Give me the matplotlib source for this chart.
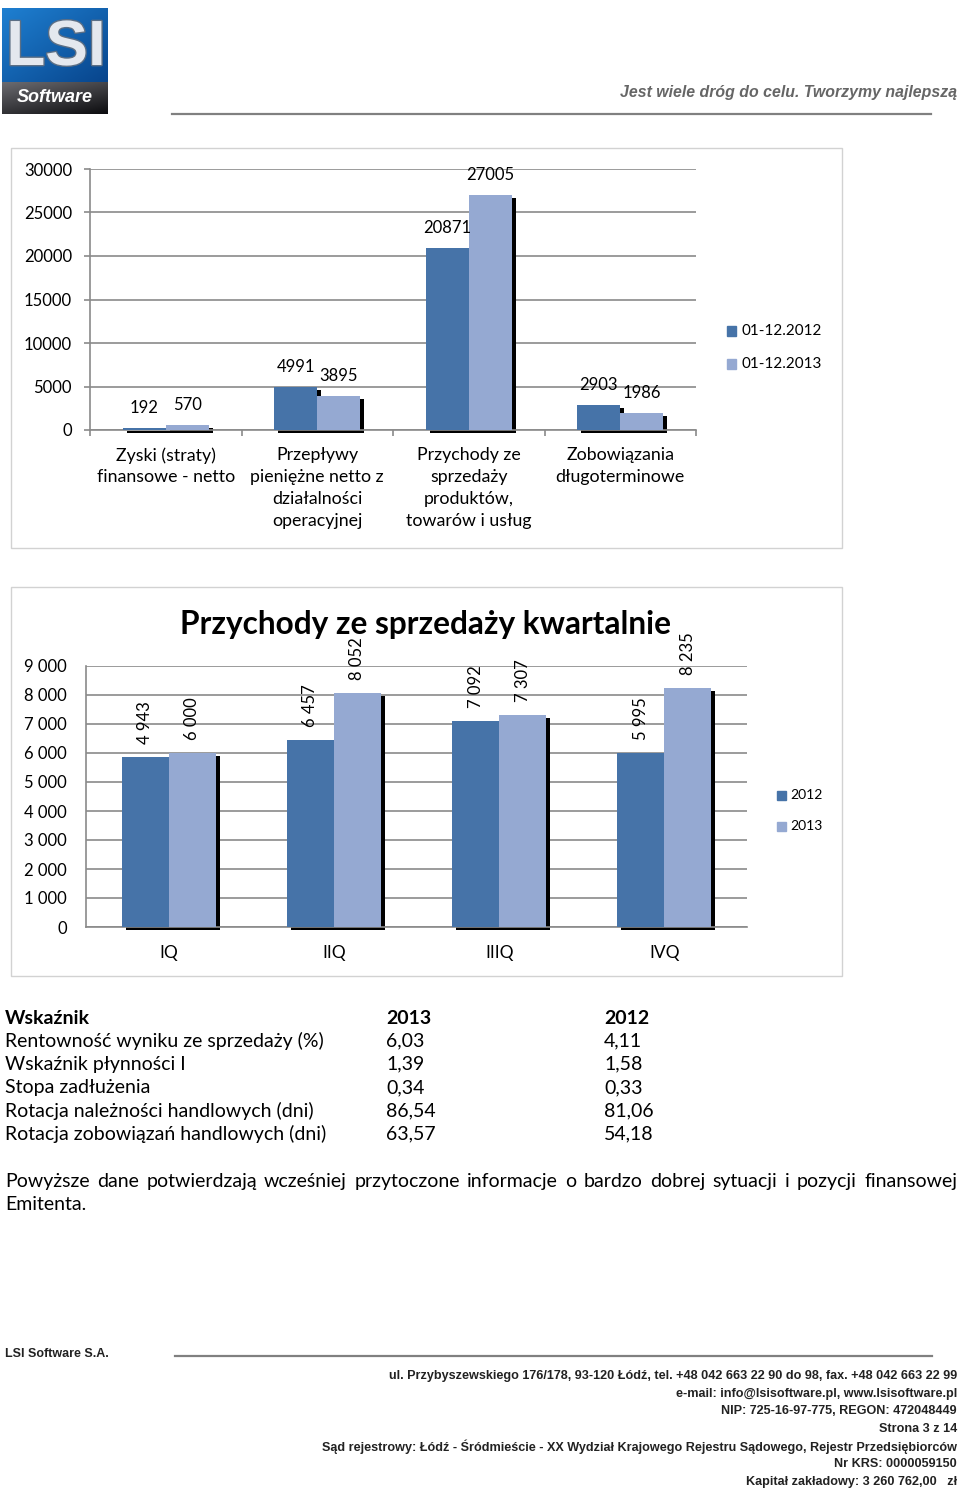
import matplotlib
matplotlib.use('Agg')
import matplotlib.pyplot as plt
import numpy as np
from matplotlib.patches import Rectangle
from matplotlib.transforms import ScaledTranslation, blended_transform_factory
import matplotlib.patheffects as pe

# ---------------- data ----------------
c1_categories = ["Zyski (straty)\nfinansowe - netto",
                 "Przepływy\npieniężne netto z\ndziałalności\noperacyjnej",
                 "Przychody ze\nsprzedaży\nproduktów,\ntowarów i usług",
                 "Zobowiązania\ndługoterminowe"]
c1_series = ["01-12.2012", "01-12.2013"]
c1_2012 = [192, 4991, 20871, 2903]
c1_2013 = [570, 3895, 27005, 1986]
c1_yticks = [0, 5000, 10000, 15000, 20000, 25000, 30000]

c2_title = "Przychody ze sprzedaży kwartalnie"
c2_categories = ["IQ", "IIQ", "IIIQ", "IVQ"]
c2_series = ["2012", "2013"]
c2_2012 = [5850, 6457, 7092, 5995]          # bar heights as drawn in the picture
c2_2012_labels = ["4 943", "6 457", "7 092", "5 995"]
c2_2013 = [6000, 8052, 7307, 8235]
c2_2013_labels = ["6 000", "8 052", "7 307", "8 235"]
c2_yticks = [0, 1000, 2000, 3000, 4000, 5000, 6000, 7000, 8000, 9000]
c2_yticklabels = ["0", "1 000", "2 000", "3 000", "4 000", "5 000",
                  "6 000", "7 000", "8 000", "9 000"]

table_header = ["Wskaźnik", "2013", "2012"]
table_names = ["Rentowność wyniku ze sprzedaży (%)", "Wskaźnik płynności I",
               "Stopa zadłużenia", "Rotacja należności handlowych (dni)",
               "Rotacja zobowiązań handlowych (dni)"]
table_2013 = ["6,03", "1,39", "0,34", "86,54", "63,57"]
table_2012 = ["4,11", "1,58", "0,33", "81,06", "54,18"]

para_line1 = ("Powyższe dane potwierdzają wcześniej przytoczone informacje o bardzo "
              "dobrej sytuacji i pozycji finansowej")
para_line2 = "Emitenta."

header_slogan = "Jest wiele dróg do celu. Tworzymy najlepszą"
footer_company = "LSI Software S.A."
footer_lines = [
    "ul. Przybyszewskiego 176/178, 93-120 Łódź, tel. +48 042 663 22 90 do 98, fax. +48 042 663 22 99",
    "e-mail: info@lsisoftware.pl, www.lsisoftware.pl",
    "NIP: 725-16-97-775, REGON: 472048449",
    "Strona 3 z 14",
    "Sąd rejestrowy: Łódź - Śródmieście - XX Wydział Krajowego Rejestru Sądowego, Rejestr Przedsiębiorców",
    "Nr KRS: 0000059150",
    "Kapitał zakładowy: 3 260 762,00   zł",
]

# ---------------- style ----------------
W, H = 960, 1491
FONT = ['Lato', 'DejaVu Sans']
SANS = ['Liberation Sans', 'DejaVu Sans']
C2012 = '#4673a8'
C2013 = '#95a9d2'
GRID = '#8a8a8a'
FRAME = '#d2d2d2'

fig = plt.figure(figsize=(9.6, 14.91), dpi=100)


def fx(x):
    return x / W


def fy(y):
    return 1 - y / H


def px2pt(p):
    return p * 0.72


# ---------------- logo ----------------
lax = fig.add_axes([fx(2), fy(114), 106 / W, 106 / H])
lax.axis('off')
g = np.linspace(0, 1, 64)
blue = np.zeros((64, 64, 3))
for i in range(64):
    for j in range(64):
        t = 0.5 * g[i] + 0.5 * g[j]
        blue[i, j] = (1 - t) * np.array([0.12, 0.50, 0.82]) + t * np.array([0.03, 0.27, 0.55])
lax.imshow(blue, extent=[0, 106, 74, 0], aspect='auto', zorder=1)
dark = np.zeros((32, 64, 3))
for i in range(32):
    for j in range(64):
        t = 0.6 * (i / 31) + 0.4 * (j / 63)
        dark[i, j] = (1 - t) * np.array([0.42, 0.42, 0.44]) + t * np.array([0.05, 0.05, 0.06])
lax.imshow(dark, extent=[0, 106, 106, 74], aspect='auto', zorder=1)
lax.text(54, 40, "LSI", ha='center', va='center', fontsize=46, fontweight='bold',
         family=SANS, color='#e4e8ee', zorder=3,
         path_effects=[pe.withStroke(linewidth=2, foreground='#5c6f85')])
lax.text(53, 90, "Software", ha='center', va='center', fontsize=13, fontweight='bold',
         style='italic', family=SANS, color='white', zorder=3)
lax.set_xlim(0, 106)
lax.set_ylim(106, 0)

# header
fig.text(fx(957), fy(92), header_slogan, ha='right', va='center', fontsize=11.4,
         fontweight='bold', style='italic', family=SANS, color='#666666')
fig.add_artist(plt.Line2D([fx(172), fx(931)], [fy(114), fy(114)], color='#808080', lw=1.6))

# ---------------- chart frames ----------------
fig.add_artist(Rectangle((fx(11), fy(548)), 831 / W, 400 / H, transform=fig.transFigure,
                         fill=False, edgecolor=FRAME, lw=1))
fig.add_artist(Rectangle((fx(11), fy(976)), 831 / W, 389 / H, transform=fig.transFigure,
                         fill=False, edgecolor=FRAME, lw=1))


def shadow_bars(ax, x, h, w):
    bars = ax.bar(x, h, w, color='black', zorder=2, linewidth=0)
    off = ScaledTranslation(4 / 100, -3 / 100, fig.dpi_scale_trans)
    for b in bars:
        b.set_transform(ax.transData + off)
        b.set_clip_on(False)


# ---------------- chart 1 ----------------
ax1 = fig.add_axes([fx(90), fy(430), (696 - 90) / W, (430 - 169) / H])
n = len(c1_categories)
xc = np.arange(n) + 0.5
bw = 0.284
ax1.set_xlim(0, n)
ax1.set_ylim(0, 30000)
for s, vals in [(-1, c1_2012), (1, c1_2013)]:
    shadow_bars(ax1, xc + s * bw / 2, vals, bw)
ax1.bar(xc - bw / 2, c1_2012, bw, color=C2012, zorder=3, linewidth=0)
ax1.bar(xc + bw / 2, c1_2013, bw, color=C2013, zorder=3, linewidth=0)
ax1.set_yticks(c1_yticks)
ax1.set_yticklabels([str(v) for v in c1_yticks], family=FONT, fontsize=12)
ax1.yaxis.grid(True, color=GRID, lw=1.2, zorder=0)
ax1.set_axisbelow(True)
ax1.tick_params(axis='y', length=px2pt(6), width=1.2, color=GRID, pad=px2pt(12))
ax1.set_xticks(np.arange(n + 1))
ax1.set_xticklabels([])
ax1.tick_params(axis='x', length=px2pt(6), width=1.2, color=GRID)
for sp in ['top', 'right']:
    ax1.spines[sp].set_visible(False)
for sp in ['left', 'bottom']:
    ax1.spines[sp].set_color(GRID)
    ax1.spines[sp].set_linewidth(1.2)
for i in range(n):
    ax1.annotate(str(c1_2012[i]), (xc[i] - bw / 2, c1_2012[i]), xytext=(0, px2pt(20)),
                 textcoords='offset points', ha='center', va='center', fontsize=12, family=FONT)
    ax1.annotate(str(c1_2013[i]), (xc[i] + bw / 2, c1_2013[i]), xytext=(0, px2pt(20)),
                 textcoords='offset points', ha='center', va='center', fontsize=12, family=FONT)
trans1 = blended_transform_factory(ax1.transData, ax1.transAxes)
for i, lab in enumerate(c1_categories):
    ax1.text(xc[i], (430 - 447) / 261, lab, transform=trans1, ha='center', va='top',
             fontsize=12.8, family=FONT, linespacing=1.45)

# legend chart 1
for k, (lab, col) in enumerate(zip(c1_series, [C2012, C2013])):
    yy = 331 + 33 * k
    fig.add_artist(Rectangle((fx(727), fy(yy + 4.5)), 9 / W, 9 / H, transform=fig.transFigure,
                             color=col))
    fig.text(fx(741), fy(yy), lab, ha='left', va='center', fontsize=11, family=FONT)

# ---------------- chart 2 ----------------
ax2 = fig.add_axes([fx(86), fy(927), (747 - 86) / W, (927 - 666) / H])
m = len(c2_categories)
xq = np.arange(m) + 0.5
bw2 = 0.284
ax2.set_xlim(0, m)
ax2.set_ylim(0, 9000)
for s, vals in [(-1, c2_2012), (1, c2_2013)]:
    shadow_bars(ax2, xq + s * bw2 / 2, vals, bw2)
ax2.bar(xq - bw2 / 2, c2_2012, bw2, color=C2012, zorder=3, linewidth=0)
ax2.bar(xq + bw2 / 2, c2_2013, bw2, color=C2013, zorder=3, linewidth=0)
ax2.set_yticks(c2_yticks)
ax2.set_yticklabels(c2_yticklabels, family=FONT, fontsize=12)
ax2.yaxis.grid(True, color=GRID, lw=1.2, zorder=0)
ax2.set_axisbelow(True)
ax2.tick_params(axis='y', length=0, pad=px2pt(19))
ax2.set_xticks(xq)
ax2.set_xticklabels(c2_categories, family=FONT, fontsize=12.5)
ax2.tick_params(axis='x', length=0, pad=px2pt(18))
for sp in ['top', 'right']:
    ax2.spines[sp].set_visible(False)
for sp in ['left', 'bottom']:
    ax2.spines[sp].set_color(GRID)
    ax2.spines[sp].set_linewidth(1.2)
for i in range(m):
    ax2.annotate(c2_2012_labels[i], (xq[i] - bw2 / 2, c2_2012[i]), xytext=(0, px2pt(13)),
                 textcoords='offset points', ha='center', va='bottom', rotation=90,
                 fontsize=12, family=FONT)
    ax2.annotate(c2_2013_labels[i], (xq[i] + bw2 / 2, c2_2013[i]), xytext=(0, px2pt(13)),
                 textcoords='offset points', ha='center', va='bottom', rotation=90,
                 fontsize=12, family=FONT)
fig.text(fx(426), fy(624), c2_title, ha='center', va='center', fontsize=22.8,
         fontweight='bold', family=FONT)

# legend chart 2
for k, (lab, col) in enumerate(zip(c2_series, [C2012, C2013])):
    yy = 795 + 31 * k
    fig.add_artist(Rectangle((fx(777), fy(yy + 4.5)), 9 / W, 9 / H, transform=fig.transFigure,
                             color=col))
    fig.text(fx(790), fy(yy), lab, ha='left', va='center', fontsize=10, family=FONT)

# ---------------- table ----------------
TFS = 14.0
ty0 = 1018
for j, (xx, lab) in enumerate(zip([5, 386, 604], table_header)):
    fig.text(fx(xx), fy(ty0), lab, ha='left', va='center', fontsize=TFS,
             fontweight='bold', family=FONT)
for i in range(len(table_names)):
    yy = 1041 + 23.3 * i
    fig.text(fx(5), fy(yy), table_names[i], ha='left', va='center', fontsize=TFS, family=FONT)
    fig.text(fx(386), fy(yy), table_2013[i], ha='left', va='center', fontsize=TFS, family=FONT)
    fig.text(fx(604), fy(yy), table_2012[i], ha='left', va='center', fontsize=TFS, family=FONT)

# ---------------- justified paragraph ----------------
renderer = fig.canvas.get_renderer()
words = para_line1.split()
wtexts = [fig.text(0, fy(1181), w, ha='left', va='baseline', fontsize=TFS, family=FONT)
          for w in words]
widths = [t.get_window_extent(renderer).width for t in wtexts]
gap = (957 - 5 - sum(widths)) / (len(words) - 1)
xpos = 5
for t, wd in zip(wtexts, widths):
    t.set_x(fx(xpos))
    t.set_y(fy(1187))
    xpos += wd + gap
fig.text(fx(5), fy(1210), para_line2, ha='left', va='baseline', fontsize=TFS, family=FONT)

# ---------------- footer ----------------
fig.text(fx(5), fy(1354), footer_company, ha='left', va='center', fontsize=9,
         fontweight='bold', family=SANS, color='#222222')
fig.add_artist(plt.Line2D([fx(175), fx(932)], [fy(1356), fy(1356)], color='#808080', lw=1.6))
for i, line in enumerate(footer_lines):
    fig.text(fx(957), fy(1376 + 17.6 * i), line, ha='right', va='center', fontsize=9.1,
             fontweight='bold', family=SANS, color='#222222')

fig.savefig('out.png', dpi=100)
